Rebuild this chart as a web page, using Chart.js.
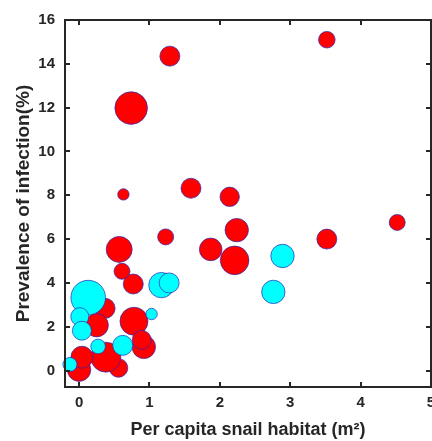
<!DOCTYPE html>
<html>
<head>
<meta charset="utf-8">
<script src="https://cdn.jsdelivr.net/npm/chart.js@4.4.1/dist/chart.umd.min.js"></script>
<style>
    html, body { margin: 0; padding: 0; background: #fff; overflow: hidden; }
    #wrap { position: relative; width: 450px; height: 441px; }
</style>
</head>
<body>
<div id="wrap"><canvas id="bubbleChart"></canvas></div>
<script>
// Data (x = per capita snail habitat, y = prevalence, size = bubble radius)
const cyanX    = [0.13, 0.01, 0.04, 0.27, 0.62, -0.13, 1.03, 1.17, 1.28, 2.76, 2.89];
const cyanY    = [3.33, 2.46, 1.82, 1.10, 1.15, 0.28, 2.58, 3.90, 4.00, 3.59, 5.23];
const cyanSize = [17.3, 9, 9.5, 7.3, 10, 7, 5.7, 12.7, 10, 11.7, 11.7];

const redX    = [1.29, 3.52, 0.74, 0.63, 1.59, 2.14, 4.52, 2.24, 3.52, 1.23, 1.87, 2.21,
                 0.57, 0.61, 0.77, 0.37, 0.25, 0.78, 0.92, 0.89, 0.56, 0.38, 0.00, 0.04];
const redY    = [14.35, 15.10, 11.98, 8.04, 8.32, 7.93, 6.76, 6.41, 6.00, 6.10, 5.53, 5.03,
                 5.53, 4.53, 3.95, 2.84, 2.07, 2.25, 1.08, 1.40, 0.12, 0.61, 0.04, 0.61];
const redSize = [10, 8.3, 16.3, 5.7, 10, 9.7, 8, 11.7, 10, 8, 11.3, 14.3,
                 13, 8, 10, 10, 11.7, 14, 11.7, 9.5, 9.3, 15, 11.7, 11];

const xTicks = [0, 1, 2, 3, 4, 5];
const yTicks = [0, 2, 4, 6, 8, 10, 12, 14, 16];

function toPoints(xs, ys, rs) {
    return xs.map((x, i) => ({ x: x, y: ys[i], r: rs[i] }));
}

const axisColor = '#262626';
const fontFamily = '"Liberation Sans", Arial, sans-serif';

// MATLAB-style box with inward ticks on all four sides
const boxPlugin = {
    id: 'boxPlugin',
    afterDraw(chart) {
        const { ctx, chartArea: a, scales } = chart;
        ctx.save();
        ctx.strokeStyle = axisColor;
        ctx.lineWidth = 2;
        ctx.beginPath();
        scales.x.ticks.forEach(t => {
            const px = Math.round(scales.x.getPixelForValue(t.value));
            ctx.moveTo(px, a.bottom); ctx.lineTo(px, a.bottom - 5);
            ctx.moveTo(px, a.top); ctx.lineTo(px, a.top + 5);
        });
        scales.y.ticks.forEach(t => {
            const py = Math.round(scales.y.getPixelForValue(t.value));
            ctx.moveTo(a.left, py); ctx.lineTo(a.left + 5, py);
            ctx.moveTo(a.right, py); ctx.lineTo(a.right - 5, py);
        });
        ctx.stroke();
        ctx.strokeRect(a.left, a.top, a.right - a.left, a.bottom - a.top);
        ctx.restore();
    }
};

new Chart(document.getElementById('bubbleChart'), {
    type: 'bubble',
    data: {
        datasets: [
            {
                label: 'cyan',
                data: toPoints(cyanX, cyanY, cyanSize),
                backgroundColor: '#00FFFF',
                borderColor: '#2828b4',
                borderWidth: 0.7,
                clip: false
            },
            {
                label: 'red',
                data: toPoints(redX, redY, redSize),
                backgroundColor: '#FF0000',
                borderColor: '#2828b4',
                borderWidth: 0.7,
                clip: false
            }
        ]
    },
    options: {
        responsive: true,
        maintainAspectRatio: false,
        animation: false,
        events: [],
        layout: { padding: { top: 20, right: 19, left: 0, bottom: 0 } },
        plugins: {
            legend: { display: false },
            tooltip: { enabled: false }
        },
        scales: {
            x: {
                type: 'linear',
                min: -0.2,
                max: 5,
                afterBuildTicks: s => { s.ticks = xTicks.map(v => ({ value: v })); },
                afterFit: s => { s.height = 54; },
                grid: { display: false, drawTicks: false },
                border: { display: false },
                ticks: {
                    padding: 7,
                    color: axisColor,
                    font: { family: fontFamily, size: 15, weight: 'bold' }
                },
                title: {
                    display: true,
                    text: 'Per capita snail habitat (m²)',
                    color: axisColor,
                    padding: { top: 0, bottom: 0 },
                    font: { family: fontFamily, size: 18, weight: 'bold' }
                }
            },
            y: {
                type: 'linear',
                min: -0.75,
                max: 16,
                afterBuildTicks: s => { s.ticks = yTicks.map(v => ({ value: v })); },
                afterFit: s => { s.width = 65; },
                grid: { display: false, drawTicks: false },
                border: { display: false },
                ticks: {
                    padding: 10,
                    color: axisColor,
                    font: { family: fontFamily, size: 15, weight: 'bold' }
                },
                title: {
                    display: true,
                    text: 'Prevalence of infection(%)',
                    color: axisColor,
                    padding: { top: 12, bottom: 0 },
                    font: { family: fontFamily, size: 19, weight: 'bold' }
                }
            }
        }
    },
    plugins: [boxPlugin]
});
</script>
</body>
</html>
